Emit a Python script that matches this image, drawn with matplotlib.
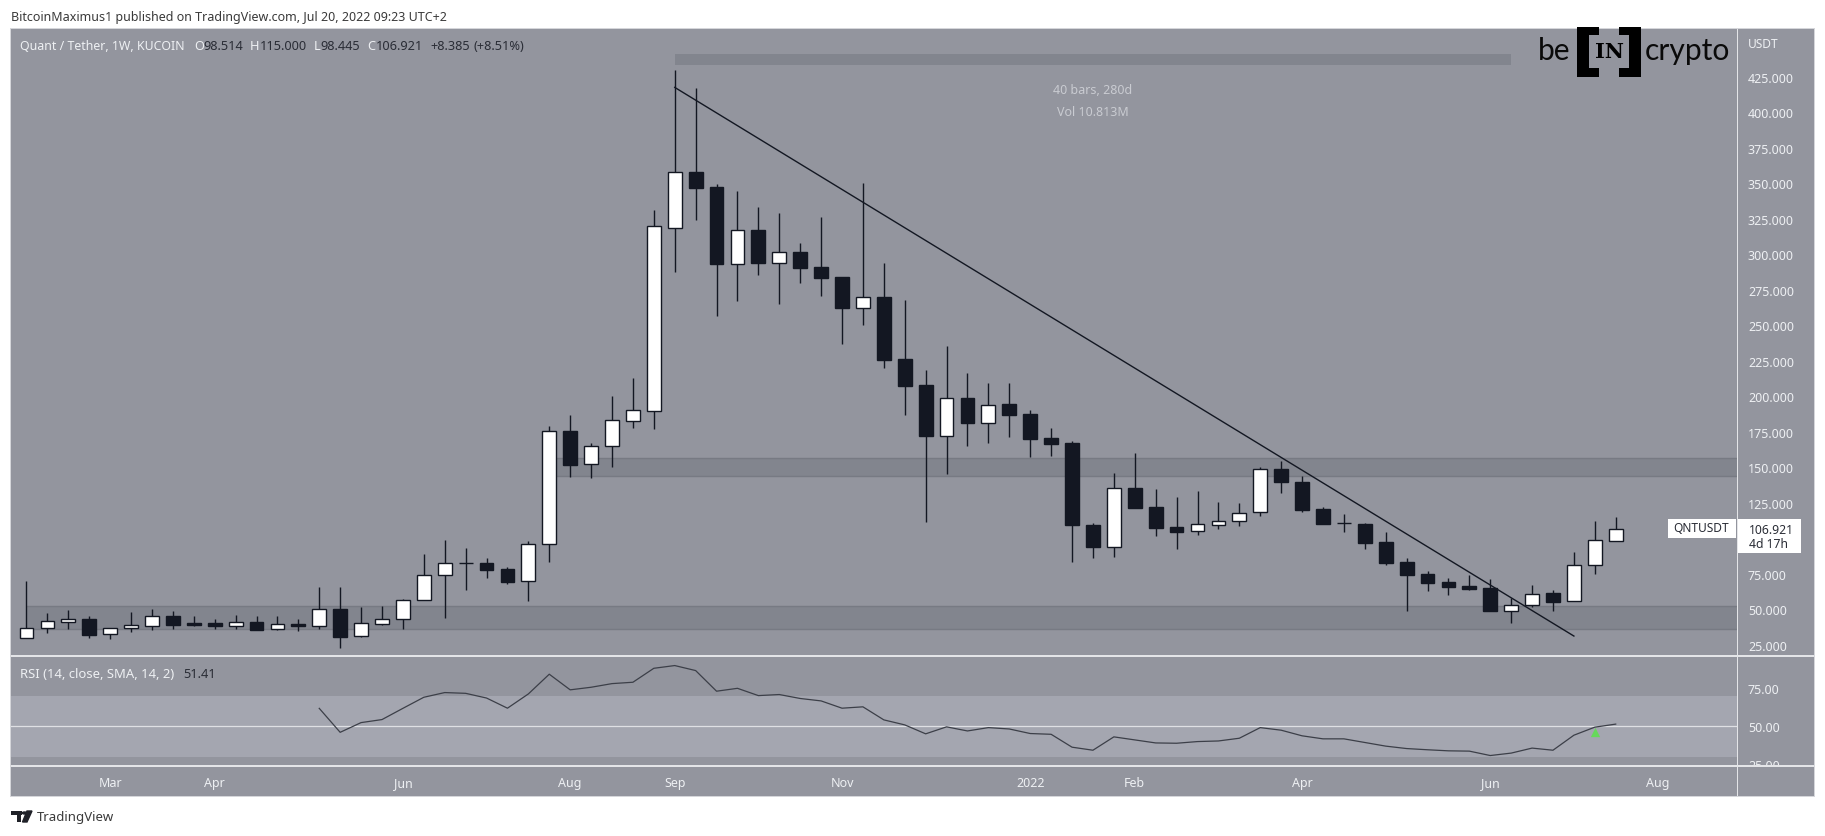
import matplotlib
matplotlib.use('Agg')
import matplotlib.pyplot as plt
from matplotlib.patches import Rectangle, Polygon, Circle
from matplotlib.transforms import Bbox, TransformedBbox

W, H = 1825, 837
plt.rcParams['font.family'] = ['Noto Sans', 'DejaVu Sans']

# weekly candles
opens = [29.7, 36.7, 41.4, 43.3, 32.5, 36.7, 38.6, 45.2, 40.5, 40.5, 38.6, 41, 36, 39.8, 38.6, 50.3, 31.1, 40, 43.1, 56.4,
         74.5, 82.5, 82.7, 78.5, 69.8, 95.9, 175.4, 152.2, 164.8, 182.9, 189.5, 318.7, 357.9, 347.3, 293.4, 317, 294.1, 301.6, 291, 284,
         262.4, 269.9, 226, 208, 172.3, 198.9, 181.5, 194.6, 187.6, 170.7, 167.2, 109.5, 94.2, 135.5, 122.1, 108.1, 105.5, 109.7, 112, 118.3,
         148.6, 139.5, 120.4, 110.6, 109.9, 97.2, 83.1, 74.7, 69.1, 66.3, 64.8, 49.1, 53.4, 61.3, 55.7, 81, 98.514]
highs = [69.8, 47.3, 49.6, 45.4, 36.7, 48.2, 50.1, 48.7, 45.4, 43.1, 45.9, 45.4, 45.4, 43.1, 65.6, 65.6, 51.7, 52.2, 57.4, 89,
         98.7, 93, 86, 79.7, 98, 178.9, 186.7, 167, 200, 212.9, 330.9, 429.7, 416.8, 349.4, 344.5, 333, 329, 307.9, 326.2, 284,
         350.2, 293.9, 267.8, 218.6, 235.4, 216.4, 209.4, 209.4, 190.4, 177.7, 168.4, 110.9, 146.1, 160.1, 134.8, 129.2, 133.4, 125.7, 124.7, 150,
         154.2, 143.7, 121.8, 116.9, 110.6, 104.3, 86, 76.8, 71.9, 74.2, 71.2, 58, 67, 63.4, 90.2, 112.2, 115]
lows = [29.7, 33.4, 36.3, 30, 29.2, 34.4, 35.8, 36.3, 38.4, 36.3, 36.3, 35.8, 35.8, 34.9, 36.3, 22.9, 30.9, 39.3, 36.3, 56.4,
        44, 64, 72.2, 68.2, 56, 83.7, 143.5, 142.8, 150.5, 177.7, 177, 287.7, 324.1, 256.8, 267.3, 285.4, 265, 279.8, 270.6, 237.1,
        250.4, 220, 187.1, 111.6, 145.4, 165.1, 167.4, 171.4, 157.3, 158, 83.4, 86.2, 86.9, 121.4, 101.7, 92.6, 102.4, 106.6, 108.95, 116,
        131.9, 118.8, 110.4, 104.7, 92.8, 81.5, 49.1, 63.2, 60.4, 63.9, 49.1, 40.7, 52, 49.1, 55.7, 75.2, 98.445]
closes = [36.7, 41.7, 43.1, 32.3, 36.7, 38.8, 45.2, 39.1, 39.1, 38.4, 41, 35.8, 40, 38.4, 50.1, 30.9, 40.3, 43.1, 56.4, 74,
          82.5, 82.5, 78, 69.6, 95.9, 175.4, 151.9, 164.8, 183.1, 190.2, 319.7, 357.7, 346.6, 293.1, 316.8, 293.8, 301.4, 290.3, 283.3, 262.4,
          269.7, 225.8, 207.3, 172.1, 198.6, 181.5, 193.7, 186.9, 170, 166.5, 109.7, 94, 135.3, 121.4, 107.4, 104.5, 109.9, 112, 118.1, 148.6,
          139.9, 120.2, 110.4, 110.6, 97, 82.9, 74.5, 68.8, 66, 64.4, 49.1, 53.4, 61.1, 55.5, 81, 98.6, 106.921]

# RSI starts at bar 14
rsi_start = 14
rsi = [61.8, 46, 52.4, 54.4, 61.8, 69.1, 72.2, 71.7, 68.6, 61.9, 71.3, 84.3, 74, 75.7, 78.1, 79, 88.2, 90, 86.7, 73.1,
       75, 70.2, 70.9, 68.3, 66.7, 61.9, 62.8, 54.2, 50.9, 45, 49.6, 46.9, 49.1, 48.2, 45.2, 44.7, 36.2, 34.2, 43, 41,
       39, 38.8, 39.9, 40.3, 42.1, 49.1, 47.4, 43.7, 41.7, 41.7, 39.3, 36.9, 35.3, 34.5, 33.8, 33.6, 30.7, 32.3, 35.6, 34.2,
       44.1, 49.4, 51.41]

# 100.000 sits under the last price tag in the picture, so it is left out
price_ticks = [25, 50, 75, 125, 150, 175, 200, 225, 250, 275, 300, 325, 350, 375, 400, 425]
rsi_ticks = [25, 50, 75]
time_pos = [4, 9, 18, 26, 31, 39, 48, 53, 61, 70, 78]
time_labels = ['Mar', 'Apr', 'Jun', 'Aug', 'Sep', 'Nov', '2022', 'Feb', 'Apr', 'Jun', 'Aug']

zones = [(25, 144.2, 156.4), (0, 36, 52.2)]
measure = (31, 71, 433, 441)
trend_x = [31, 74]
trend_y = [417.5, 31.3]

BG = '#93959e'
ZONE = '#82858e'
ZONE_EDGE = '#777a83'
BAND = '#a4a6b0'
DARK = '#131722'
LABEL = '#eef0f3'
VALUE = '#2a2d36'


def fx(x):
    return x / W


def fy(y):
    return 1 - y / H


def label(x, y, s, color=LABEL, size=9, weight='normal', ha='left', **kw):
    return fig.text(fx(x), fy(y), s, color=color, fontsize=size, fontweight=weight, ha=ha, va='center', **kw)


def box(x0, y0, x1, y1, color, zorder=0):
    fig.add_artist(Rectangle((fx(x0), fy(y1)), (x1 - x0) / W, (y1 - y0) / H, transform=fig.transFigure,
                             facecolor=color, edgecolor='none', zorder=zorder))


fig = plt.figure(figsize=(W / 100, H / 100), dpi=100, facecolor='white')

# panel behind everything
box(10, 29, 1815, 798, '#d5d6da', zorder=-2)
box(11, 30, 1814, 797, BG, zorder=-1)

ax = fig.add_axes([fx(11), fy(657), (1737 - 11) / W, (657 - 30) / H])
ax2 = fig.add_axes([fx(11), fy(767), (1737 - 11) / W, (767 - 657) / H], sharex=ax)
for a in (ax, ax2):
    a.set_facecolor(BG)
    for s in a.spines.values():
        s.set_visible(False)
ax.set_xlim(-0.741, 81.8)
ax.set_ylim(17.26, 458.6)
ax2.set_ylim(23.8, 96.3)

# zones and measure box
for start, low, high in zones:
    ax.fill_between([start, 81.8], low, high, color=ZONE, lw=0, zorder=1)
    ax.hlines([low, high], start, 81.8, color=ZONE_EDGE, lw=1, zorder=1)
ax.fill_between(measure[:2], measure[2], measure[3], color=ZONE, lw=0, zorder=1)
ax.text(51, 415.8, '40 bars, 280d', color='#c9cbd1', fontsize=9, ha='center', va='center')
ax.text(51, 400.3, 'Vol 10.813M', color='#c9cbd1', fontsize=9, ha='center', va='center')

# candles
xs = list(range(len(closes)))
ax.vlines(xs, lows, highs, color=DARK, lw=1.0, zorder=3)
for i in xs:
    up = closes[i] >= opens[i]
    bottom = min(opens[i], closes[i])
    ax.bar(i, abs(closes[i] - opens[i]), bottom=bottom, width=0.66,
           facecolor='white' if up else DARK, edgecolor=DARK, linewidth=1.0, zorder=4)
ax.plot(trend_x, trend_y, color=DARK, lw=1.0, zorder=5)

ax.yaxis.tick_right()
ax.set_yticks(price_ticks)
ax.set_yticklabels(['%.3f' % t for t in price_ticks])
ax.tick_params(axis='y', length=0, pad=7.9, labelsize=9, labelcolor=LABEL)
ax.tick_params(axis='x', length=0, labelbottom=False)

# RSI pane
ax2.axhspan(30, 70, color=BAND, lw=0, zorder=1)
ax2.axhline(50, color='#dfe0e4', lw=0.9, zorder=2)
ax2.plot(range(rsi_start, rsi_start + len(rsi)), rsi, color='#3c3f48', lw=0.9, zorder=3)
ax2.scatter([75], [46], marker='^', s=45, color='#66d95a', lw=0, zorder=3)
ax2.yaxis.tick_right()
ax2.set_yticks(rsi_ticks)
ax2.set_yticklabels(['%.2f' % t for t in rsi_ticks])
ax2.tick_params(axis='y', length=0, pad=7.9, labelsize=9, labelcolor=LABEL)
ax2.set_xticks(time_pos)
ax2.set_xticklabels(time_labels)
ax2.tick_params(axis='x', length=0, pad=7.5, labelsize=9, labelcolor=LABEL)
for t in ax2.get_xticklabels():
    if t.get_text() == '2022':
        t.set_fontweight('bold')
# the 25.00 label is cut at the pane edge
clip = TransformedBbox(Bbox([[0, fy(767)], [1, fy(657)]]), fig.transFigure)
for t in ax2.yaxis.get_ticklabels(which='major'):
    t.set_clip_box(clip)
    t.set_clip_on(True)

# separators
box(11, 656.4, 1814, 657.6, '#e4e5e8', zorder=6)
box(11, 766.4, 1814, 767.6, '#e4e5e8', zorder=6)
box(1736.5, 30, 1737.7, 797, '#e4e5e8', zorder=6)

# header texts
label(11, 17, 'BitcoinMaximus1 published on TradingView.com, Jul 20, 2022 09:23 UTC+2', color='#3a3a3a', size=9)
label(20, 47, 'Quant / Tether, 1W, KUCOIN', size=8.9, weight='medium', zorder=7)
for x, s in [(194, 'O'), (250, 'H'), (313.5, 'L'), (367.5, 'C')]:
    label(x, 47, s, size=9.2, zorder=7)
for x, s in [(203, '98.514'), (260, '115.000'), (320, '98.445'), (375.5, '106.921'), (430, '+8.385'), (473.5, '(+8.51%)')]:
    label(x, 47, s, color=VALUE, size=9.2, zorder=7)
label(20, 675, 'RSI (14, close, SMA, 14, 2)', size=9.4, zorder=7)
label(183, 675, '51.41', color=VALUE, size=9.2, zorder=7)
label(1748, 45, 'USDT', size=8.6, weight='medium', zorder=7)

# last price tags
box(1668, 520, 1736, 539, 'white', zorder=7)
box(1737.8, 520, 1801, 554, 'white', zorder=7)
label(1673, 529, 'QNTUSDT', color=VALUE, size=8.6, zorder=8)
label(1749, 530, '106.921', color=VALUE, size=8.8, zorder=8)
label(1749, 545, '4d 17h', color=VALUE, size=8.8, zorder=8)

# beincrypto logo
label(1538, 51, 'be', color='#0a0a0a', size=21.6, family='Lato', zorder=8)
label(1645, 51, 'crypto', color='#0a0a0a', size=21.6, family='Lato', zorder=8)
box(1576.7, 27.7, 1588.5, 77.7, 'black', zorder=8)
box(1576.7, 27.7, 1599, 36, 'black', zorder=8)
box(1576.7, 69.4, 1599, 77.7, 'black', zorder=8)
box(1629.3, 27.7, 1641, 77.7, 'black', zorder=8)
box(1619, 27.7, 1641, 36, 'black', zorder=8)
box(1619, 69.4, 1641, 77.7, 'black', zorder=8)
label(1609, 52, 'IN', color='black', size=15, weight='bold', family='DejaVu Serif', ha='center', zorder=8)

# TradingView footer
box(11, 812, 22, 816, '#1f2128', zorder=8)
box(16.5, 812, 21, 823, '#1f2128', zorder=8)
fig.add_artist(Circle((fx(24.5), fy(814)), 2.2 / W, transform=fig.transFigure, color='#1f2128', zorder=8))
fig.add_artist(Polygon([(fx(27), fy(812)), (fx(32), fy(812)), (fx(27), fy(823)), (fx(22.5), fy(823))],
                       transform=fig.transFigure, color='#1f2128', zorder=8))
label(37, 818, 'TradingView', color='#3a3a3a', size=9.5, zorder=8)

fig.savefig('out.png', dpi=100, facecolor='white')
